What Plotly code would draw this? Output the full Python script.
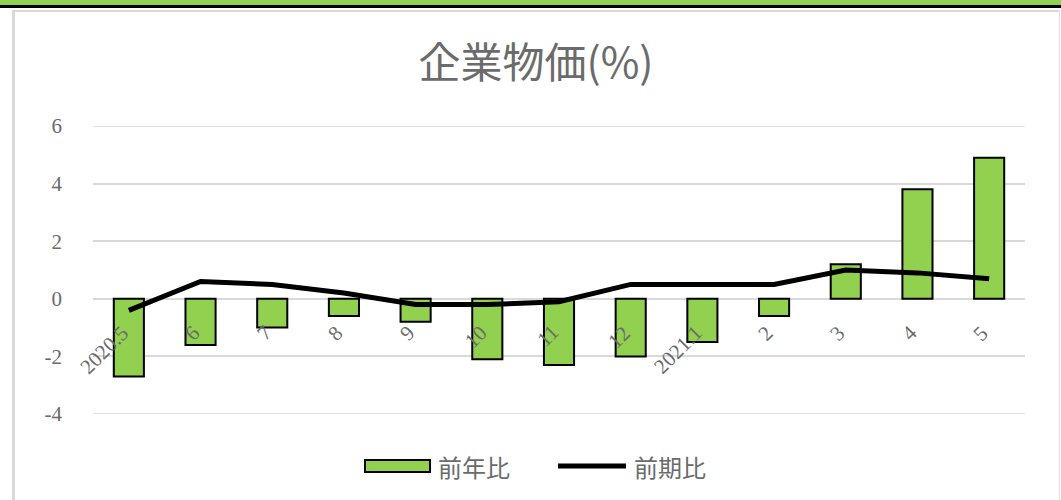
import plotly.graph_objects as go

categories = ["2020.5", "6", "7", "8", "9", "10", "11", "12", "2021.1", "2", "3", "4", "5"]
yoy = [-2.7, -1.6, -1.0, -0.6, -0.8, -2.1, -2.3, -2.0, -1.5, -0.6, 1.2, 3.8, 4.9]
mom = [-0.4, 0.6, 0.5, 0.2, -0.2, -0.2, -0.1, 0.5, 0.5, 0.5, 1.0, 0.9, 0.7]
y_ticks = [-4, -2, 0, 2, 4, 6]
y_tick_labels = ["-4", "-2", "0", "2", "4", "6"]
series_names = ["前年比", "前期比"]
title_text = "企業物価(%)"

W, H = 1061, 500
L, R, T, B = 93, 36, 126, 86
PW, PH = W - L - R, H - T - B

def px(x):
    return (x - L) / PW

def py(y):
    return (H - B - y) / PH

GREEN = "#92d050"
TXT = "#6b6b6b"
GRID = "#d9d9d9"
CJK = "Noto Sans CJK JP"
SERIF = "Liberation Serif"

xs = list(range(len(categories)))

fig = go.Figure()
fig.add_trace(go.Bar(x=xs, y=yoy, name=series_names[0], width=0.42,
                     marker=dict(color=GREEN, line=dict(color="black", width=2)),
                     showlegend=False))
fig.add_trace(go.Scatter(x=xs, y=mom, name=series_names[1], mode="lines",
                         line=dict(color="black", width=5), showlegend=False))

shapes = []
# edge gridlines (plotly drops them at the range boundary)
for v in (y_ticks[0], y_ticks[-1]):
    shapes.append(dict(type="line", xref="paper", yref="y", x0=0, x1=1, y0=v, y1=v,
                       line=dict(color=GRID, width=1.5), layer="below"))
# top band
shapes.append(dict(type="rect", xref="paper", yref="paper", x0=px(-5), x1=px(W + 5), y0=py(5), y1=py(-5),
                   fillcolor=GREEN, line=dict(width=0), layer="above"))
shapes.append(dict(type="rect", xref="paper", yref="paper", x0=px(-5), x1=px(W + 5), y0=py(8), y1=py(5),
                   fillcolor="black", line=dict(width=0), layer="above"))
# frame
shapes.append(dict(type="line", xref="paper", yref="paper", x0=px(13.5), x1=px(13.5), y0=py(H + 5), y1=py(10),
                   line=dict(color=GRID, width=3)))
shapes.append(dict(type="line", xref="paper", yref="paper", x0=px(12), x1=px(1059.5), y0=py(11), y1=py(11),
                   line=dict(color=GRID, width=2)))
shapes.append(dict(type="line", xref="paper", yref="paper", x0=px(1059.5), x1=px(1059.5), y0=py(H + 5), y1=py(11),
                   line=dict(color="#e3e3e3", width=1.5)))
# custom legend
shapes.append(dict(type="rect", xref="paper", yref="paper", x0=px(365), x1=px(430), y0=py(472), y1=py(460),
                   fillcolor=GREEN, line=dict(color="black", width=2)))
shapes.append(dict(type="line", xref="paper", yref="paper", x0=px(558), x1=px(626), y0=py(466), y1=py(466),
                   line=dict(color="black", width=5)))

annotations = []
for i, lab in enumerate(categories):
    annotations.append(dict(x=i, y=0, xref="x", yref="y", text=lab, showarrow=False,
                            textangle=-45, xanchor="right", yanchor="top", xshift=7, yshift=-19,
                            font=dict(family=SERIF, size=21, color=TXT)))
annotations.append(dict(x=px(436), y=py(466), xref="paper", yref="paper", text=series_names[0],
                        showarrow=False, xanchor="left", yanchor="middle",
                        font=dict(family=CJK, size=24, color=TXT)))
annotations.append(dict(x=px(632), y=py(466), xref="paper", yref="paper", text=series_names[1],
                        showarrow=False, xanchor="left", yanchor="middle",
                        font=dict(family=CJK, size=24, color=TXT)))

fig.update_layout(
    width=W, height=H,
    margin=dict(l=L, r=R, t=T, b=B, pad=0),
    paper_bgcolor="white", plot_bgcolor="white",
    title=dict(text=title_text, x=536 / W, xref="container", xanchor="center",
               y=1 - 63 / H, yref="container", yanchor="middle",
               font=dict(family=CJK, size=42, color=TXT)),
    xaxis=dict(range=[-0.5, len(categories) - 0.5], showticklabels=False, showgrid=False,
               zeroline=False, showline=False, ticks=""),
    yaxis=dict(range=[-4, 6], tickvals=y_ticks, ticktext=y_tick_labels, showgrid=True,
               gridcolor=GRID, gridwidth=1.5,
               zeroline=True, zerolinecolor=GRID, zerolinewidth=1.5, showline=False,
               ticklabelstandoff=30, tickfont=dict(family=SERIF, size=21, color=TXT)),
    shapes=shapes, annotations=annotations, showlegend=False,
)

fig.write_html("out.html", config={"displayModeBar": False},
               post_script="document.body.style.margin='0';")
